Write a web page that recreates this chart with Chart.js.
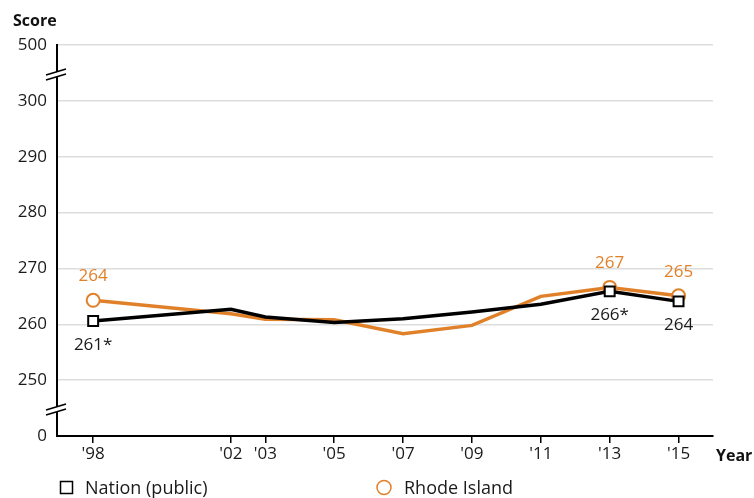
<!DOCTYPE html>
<html>
<head>
<meta charset="utf-8">
<script src="https://cdn.jsdelivr.net/npm/chart.js@4"></script>
<style>
  html, body { margin: 0; padding: 0; background: #fff; }
  #wrap { width: 754px; height: 498px; position: relative; }
</style>
</head>
<body>
<div id="wrap"><canvas id="scoreChart"></canvas></div>
<script>
// data
const years = [1998, 2002, 2003, 2005, 2007, 2009, 2011, 2013, 2015];
const yearLabels = ["'98", "'02", "'03", "'05", "'07", "'09", "'11", "'13", "'15"];
const nationScores = [260.6, 262.7, 261.3, 260.3, 261.0, 262.2, 263.6, 265.9, 264.1];
const rhodeScores = [264.3, 261.9, 260.9, 260.8, 258.3, 259.8, 265.0, 266.6, 265.1];
const nationLabels = ["261*", "", "", "", "", "", "", "266*", "264"];
const rhodeLabels = ["264", "", "", "", "", "", "", "267", "265"];
const markerShown = [true, false, false, false, false, false, false, true, true];
// y axis: 240 stands for "0", 310 stands for "500" (broken axis)
const yTicks = [240, 250, 260, 270, 280, 290, 300, 310];
const yTickLabels = ["0", "250", "260", "270", "280", "290", "300", "500"];

const orange = "#E0812A";
const textColor = "#1a1a1a";
const font = "'Open Sans', 'Noto Sans', sans-serif";

const extras = {
    id: "extras",
    afterDraw(chart) {
        const c = chart.ctx;
        const x = chart.scales.x, y = chart.scales.y;
        c.save();
        // axis breaks
        c.strokeStyle = "#000";
        c.lineWidth = 1.5;
        [305, 245].forEach(v => {
            const py = y.getPixelForValue(v);
            c.fillStyle = "#fff";
            c.beginPath();
            c.moveTo(x.left - 11, py + 2);
            c.lineTo(x.left + 9, py - 4);
            c.lineTo(x.left + 9, py + 1);
            c.lineTo(x.left - 11, py + 7);
            c.closePath();
            c.fill();
            c.beginPath();
            c.moveTo(x.left - 11, py + 2);
            c.lineTo(x.left + 9, py - 4);
            c.moveTo(x.left - 11, py + 7);
            c.lineTo(x.left + 9, py + 1);
            c.stroke();
        });
        // value labels
        c.font = "17px " + font;
        c.textAlign = "center";
        c.textBaseline = "middle";
        years.forEach((yr, i) => {
            const px = x.getPixelForValue(yr);
            if (rhodeLabels[i]) {
                c.fillStyle = orange;
                c.fillText(rhodeLabels[i], px, y.getPixelForValue(rhodeScores[i]) - 24);
            }
            if (nationLabels[i]) {
                c.fillStyle = textColor;
                c.fillText(nationLabels[i], px, y.getPixelForValue(nationScores[i]) + 24);
            }
        });
        // titles
        c.font = "bold 16px " + font;
        c.fillStyle = "#111";
        c.textAlign = "left";
        c.textBaseline = "alphabetic";
        c.fillText("Score", 13, 26);
        c.fillText("Year", 716, 461);
        // legend
        c.font = "18px " + font;
        c.fillStyle = textColor;
        c.strokeStyle = "#000";
        c.lineWidth = 1.5;
        c.strokeRect(60.5, 481.5, 12, 12);
        c.fillText("Nation (public)", 85, 494);
        c.strokeStyle = orange;
        c.beginPath();
        c.arc(384, 487.5, 7, 0, Math.PI * 2);
        c.stroke();
        c.fillText("Rhode Island", 404, 494);
        c.restore();
    }
};

new Chart(document.getElementById("scoreChart"), {
    type: "line",
    data: {
        datasets: [
            {
                label: "Nation (public)",
                data: years.map((yr, i) => ({ x: yr, y: nationScores[i] })),
                borderColor: "#000",
                borderWidth: 3.5,
                pointStyle: "rect",
                pointRadius: markerShown.map(m => m ? 7 : 0),
                pointBorderWidth: 2,
                pointBorderColor: "#000",
                pointBackgroundColor: "#fff",
                tension: 0,
            },
            {
                label: "Rhode Island",
                data: years.map((yr, i) => ({ x: yr, y: rhodeScores[i] })),
                borderColor: orange,
                borderWidth: 3.5,
                pointStyle: "circle",
                pointRadius: markerShown.map(m => m ? 6.5 : 0),
                pointBorderWidth: 2,
                pointBorderColor: orange,
                pointBackgroundColor: "#fff",
                tension: 0,
            },
        ],
    },
    options: {
        responsive: true,
        maintainAspectRatio: false,
        animation: false,
        layout: { padding: { left: 0, right: 41, top: 45, bottom: 32 } },
        plugins: { legend: { display: false }, tooltip: { enabled: false } },
        scales: {
            x: {
                type: "linear",
                min: 1996.95,
                max: 2016,
                afterBuildTicks: s => { s.ticks = years.map(v => ({ value: v })); },
                afterFit: s => { s.height = 30; },
                ticks: {
                    callback: v => yearLabels[years.indexOf(v)],
                    color: textColor,
                    font: { family: font, size: 17 },
                    padding: 1,
                    maxRotation: 0,
                    autoSkip: false,
                },
                grid: { drawOnChartArea: false, drawTicks: true, tickLength: 7, color: "#000", lineWidth: 1.5 },
                border: { color: "#000", width: 2 },
            },
            y: {
                min: 240,
                max: 310,
                afterBuildTicks: s => { s.ticks = yTicks.map(v => ({ value: v })); },
                afterFit: s => { s.width = 57; },
                ticks: {
                    callback: v => yTickLabels[yTicks.indexOf(v)],
                    color: textColor,
                    font: { family: font, size: 17 },
                    padding: 10,
                },
                grid: { color: "#dddddd", lineWidth: 1.5, drawTicks: false },
                border: { color: "#000", width: 2 },
            },
        },
    },
    plugins: [extras],
});
</script>
</body>
</html>
